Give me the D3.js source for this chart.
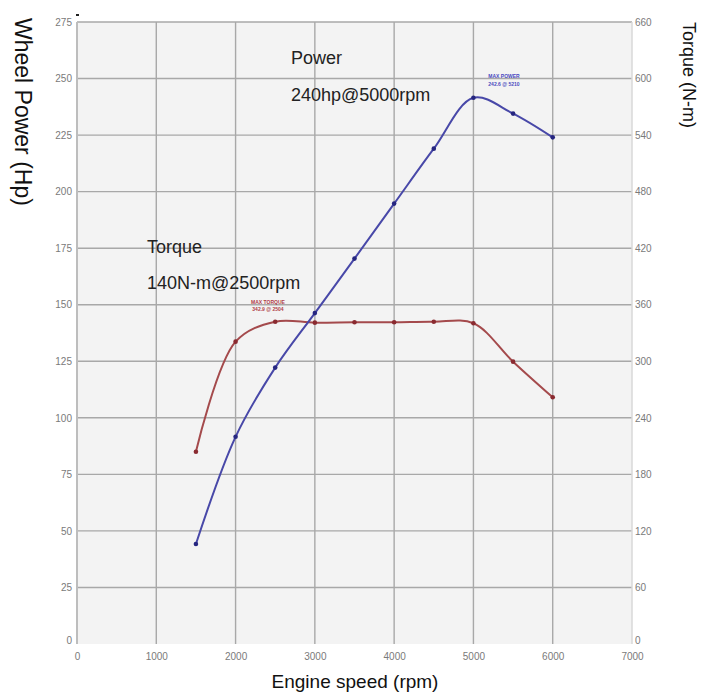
<!DOCTYPE html>
<html>
<head>
<meta charset="utf-8">
<script src="https://cdn.jsdelivr.net/npm/d3@7"></script>
<style>
  body { margin: 0; background: #fff; }
  text { font-family: "Liberation Sans", Arial, sans-serif; }
</style>
</head>
<body>
<script>
// engine speed (rpm) for each dyno reading
var rpm = [1500, 2000, 2500, 3000, 3500, 4000, 4500, 5000, 5500, 6000];
// wheel power, hp (left axis)
var power = [44.2, 91.6, 122.2, 146.3, 170.4, 194.7, 219, 241.5, 234.5, 224];
// torque, N-m (right axis)
var torque = [204, 320.8, 342, 341, 341.4, 341.4, 342, 340.3, 299.6, 261.8];

var xTicks = [0, 1000, 2000, 3000, 4000, 5000, 6000, 7000];
var hpTicks = [0, 25, 50, 75, 100, 125, 150, 175, 200, 225, 250, 275];
var nmTicks = [0, 60, 120, 180, 240, 300, 360, 420, 480, 540, 600, 660];

var W = 705, H = 697;
var svg = d3.select("body")
  .append("svg")
  .attr("width", W)
  .attr("height", H)

var x = d3.scaleLinear().domain([0, 7000]).range([77, 632]);
var yHp = d3.scaleLinear().domain([0, 275]).range([644, 22]);
var yNm = d3.scaleLinear().domain([0, 660]).range([644, 22]);

// plot background
svg.append("rect")
  .attr("x", x(0)).attr("y", yHp(275))
  .attr("width", x(7000) - x(0))
  .attr("height", yHp(0) - yHp(275))
  .attr("fill", "#f3f3f3");

// grid
var grid = svg.append("g").attr("stroke", "#a8a8a8").attr("stroke-width", 1.4);
grid.selectAll(".v")
  .data(xTicks.slice(1, -1))
  .enter().append("line")
  .attr("x1", function(d){ return x(d) }).attr("x2", function(d){ return x(d) })
  .attr("y1", yHp(275)).attr("y2", yHp(0));
grid.selectAll(".h")
  .data(hpTicks.slice(1))
  .enter().append("line")
  .attr("x1", x(0)).attr("x2", x(7000))
  .attr("y1", function(d){ return yHp(d) }).attr("y2", function(d){ return yHp(d) });

// frame edges
svg.append("line")
  .attr("x1", x(0)).attr("x2", x(0)).attr("y1", yHp(275)).attr("y2", yHp(0))
  .attr("stroke", "#bdbdbd").attr("stroke-width", 2);
svg.append("line")
  .attr("x1", x(7000)).attr("x2", x(7000)).attr("y1", yHp(275)).attr("y2", yHp(0))
  .attr("stroke", "#d8d8d8").attr("stroke-width", 1.5);

// axes (labels only)
var fmt = d3.format("d");
var leftAxis = svg.append("g")
  .attr("transform", "translate(" + x(0) + ",0)")
  .call(d3.axisLeft(yHp).tickValues(hpTicks).tickFormat(fmt).tickSize(0).tickPadding(5));
var rightAxis = svg.append("g")
  .attr("transform", "translate(" + x(7000) + ",0)")
  .call(d3.axisRight(yNm).tickValues(nmTicks).tickFormat(fmt).tickSize(0).tickPadding(3));
var bottomAxis = svg.append("g")
  .attr("transform", "translate(0," + yHp(0) + ")")
  .call(d3.axisBottom(x).tickValues(xTicks).tickFormat(fmt).tickSize(0).tickPadding(9));
[leftAxis, rightAxis, bottomAxis].forEach(function(a){
  a.select(".domain").remove();
  a.selectAll("text")
    .attr("fill", "#7a7a7a")
    .attr("font-size", 10)
    .attr("font-family", "Liberation Sans, Arial, sans-serif");
});
// the zero labels sit a little above the corner
leftAxis.selectAll(".tick").filter(function(d){ return d === 0 }).select("text").attr("y", -4);
rightAxis.selectAll(".tick").filter(function(d){ return d === 0 }).select("text").attr("y", -4);

// curves
var hpLine = d3.line()
  .x(function(d, i){ return x(rpm[i]) })
  .y(function(d){ return yHp(d) })
  .curve(d3.curveCatmullRom.alpha(0.5));
var nmLine = d3.line()
  .x(function(d, i){ return x(rpm[i]) })
  .y(function(d){ return yNm(d) })
  .curve(d3.curveCatmullRom.alpha(0.5));

svg.append("path")
  .attr("d", nmLine(torque))
  .attr("fill", "none").attr("stroke", "#a44a4c").attr("stroke-width", 2);
svg.append("path")
  .attr("d", hpLine(power))
  .attr("fill", "none").attr("stroke", "#4848a8").attr("stroke-width", 2);

svg.append("g").selectAll("circle")
  .data(torque)
  .enter().append("circle")
  .attr("r", 2.3)
  .attr("cx", function(d, i){ return x(rpm[i]) })
  .attr("cy", function(d){ return yNm(d) })
  .attr("fill", "#8a2a30");
svg.append("g").selectAll("circle")
  .data(power)
  .enter().append("circle")
  .attr("r", 2.3)
  .attr("cx", function(d, i){ return x(rpm[i]) })
  .attr("cy", function(d){ return yHp(d) })
  .attr("fill", "#262680");

// tiny max markers
svg.append("text").attr("x", 504).attr("y", 78).attr("text-anchor", "middle")
  .attr("font-size", 5).attr("font-weight", "bold").attr("fill", "#4a4ac0").text("MAX POWER");
svg.append("text").attr("x", 504).attr("y", 86).attr("text-anchor", "middle")
  .attr("font-size", 5).attr("font-weight", "bold").attr("fill", "#4a4ac0").text("242.6 @ 5210");
svg.append("text").attr("x", 268).attr("y", 304).attr("text-anchor", "middle")
  .attr("font-size", 5).attr("font-weight", "bold").attr("fill", "#b04048").text("MAX TORQUE");
svg.append("text").attr("x", 268).attr("y", 311).attr("text-anchor", "middle")
  .attr("font-size", 5).attr("font-weight", "bold").attr("fill", "#b04048").text("342.9 @ 2504");

// annotations
var note = [
  { t: "Power", x: 291, y: 64 },
  { t: "240hp@5000rpm", x: 291, y: 101 },
  { t: "Torque", x: 147, y: 253 },
  { t: "140N-m@2500rpm", x: 147, y: 289 }
];
svg.selectAll(".note")
  .data(note)
  .enter().append("text")
  .attr("x", function(d){ return d.x })
  .attr("y", function(d){ return d.y })
  .attr("font-size", 18)
  .attr("fill", "#222")
  .text(function(d){ return d.t });

// axis titles
svg.append("text")
  .attr("transform", "translate(15,18) rotate(90)")
  .attr("font-size", 23).attr("fill", "#111")
  .text("Wheel Power (Hp)");
svg.append("text")
  .attr("transform", "translate(683,22) rotate(90)")
  .attr("font-size", 18).attr("fill", "#111")
  .text("Torque (N-m)");
svg.append("text")
  .attr("x", 355).attr("y", 688)
  .attr("text-anchor", "middle")
  .attr("font-size", 19).attr("fill", "#111")
  .text("Engine speed (rpm)");

// stray mark at top-left of frame
svg.append("rect").attr("x", 76).attr("y", 14).attr("width", 3).attr("height", 2).attr("fill", "#222");
</script>
</body>
</html>
